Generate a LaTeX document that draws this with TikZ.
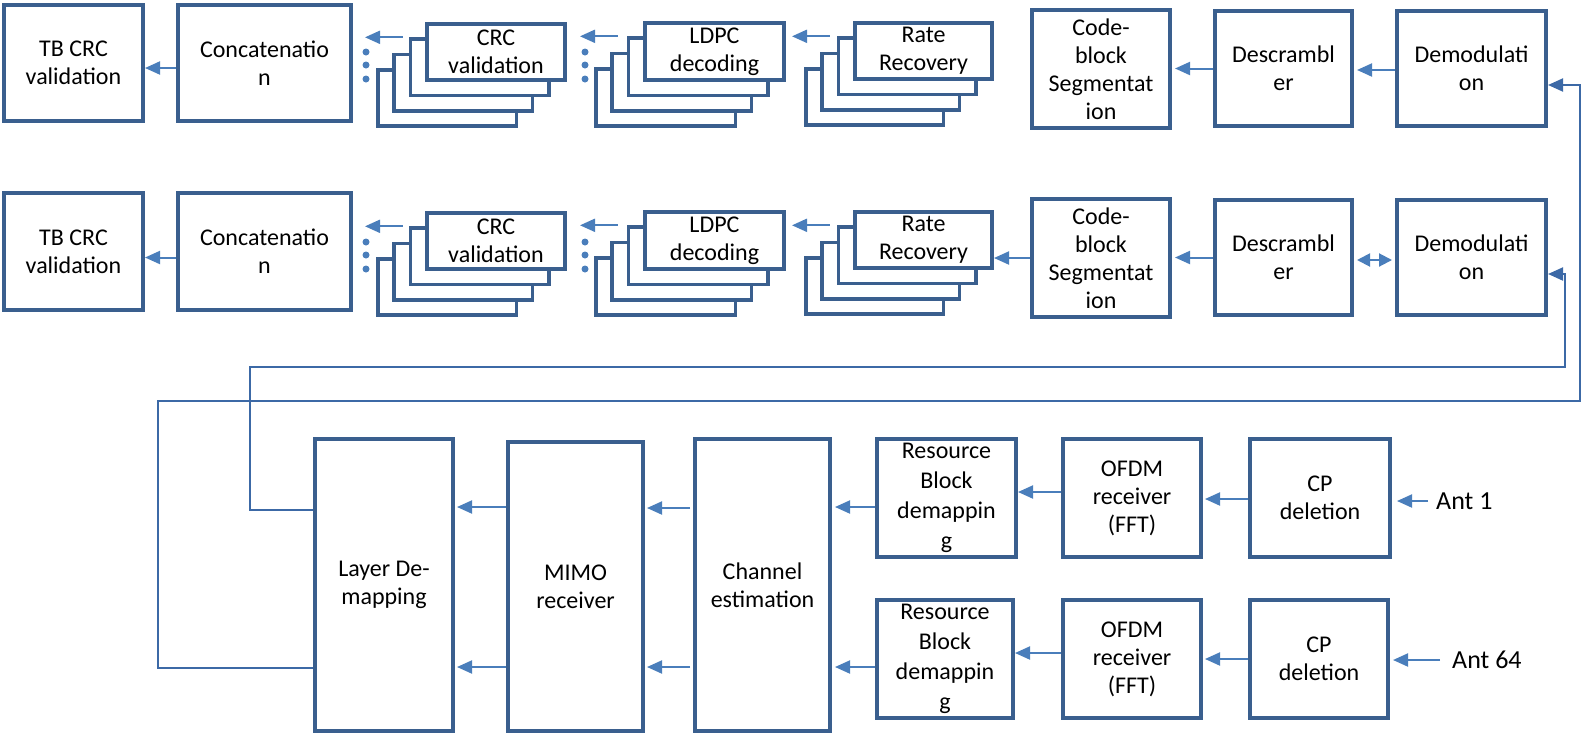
\documentclass[tikz,border=0pt]{standalone}
\usepackage{fontspec}
\setmainfont{Carlito}
\usetikzlibrary{arrows.meta}

\definecolor{boxc}{HTML}{3A5F8E}
\definecolor{arrc}{HTML}{4A7EBB}
\definecolor{linec}{HTML}{3C69A6}

\tikzset{
  blk/.style={draw=boxc, line width=4pt, fill=white, inner sep=0pt, align=center,
              font=\fontsize{24}{28}\selectfont},
  sheet/.style={draw=boxc, line width=3.6pt, fill=white, inner sep=0pt},
  tip/.style={-{Triangle[length=15pt,width=13pt]}},
  arr/.style={draw=arrc, line width=2pt, tip},
  darr/.style={draw=arrc, line width=2pt, {Triangle[length=13pt,width=13pt]}-{Triangle[length=13pt,width=13pt]}},
  route/.style={draw=linec, line width=2pt},
  dot/.style={circle, fill=arrc, inner sep=0pt, minimum size=7pt},
  antlbl/.style={inner sep=0pt, anchor=west, font=\fontsize{26}{30}\selectfont},
}

% box given by its outer corners (x1,y1) and (x2,y2), in pixels from the top left
\newcommand\blk[7][]{%
  \node[blk, #1, minimum width={#5-#3-4}, minimum height={#6-#4-4}]
    (#2) at ({(#3+#5)/2},{(#4+#6)/2}) {#7};}

% stack of four sheets, the front one carrying the label
\newcommand\stk[6]{%
  \foreach \k in {3,2,1}{%
    \node[sheet, minimum width={#4-#2-3.6}, minimum height={#5-#3-3.6}]
      (#1-\k) at ({(#2+#4)/2-16.3*\k},{(#3+#5)/2+15.3*\k}) {};}
  \blk{#1}{#2}{#3}{#4}{#5}{#6}}

\begin{document}
\begin{tikzpicture}[x=1pt, y=-1pt]
\useasboundingbox (0,0) rectangle (1586,737);

% ---------- first code-word chain ----------
\blk{TBa}{2}{3}{145}{123}{TB CRC\\validation}
\blk{CONa}{176}{3}{353}{123}{Concatenatio\\n}
\stk{CRCa}{425}{22}{567}{82}{CRC\\validation}
\stk{LDPCa}{643}{21}{786}{82}{LDPC\\decoding}
\stk{RATEa}{853}{21}{994}{81}{Rate\\Recovery}
\blk{CBSa}{1030}{8}{1172}{130}{Code-\\block\\Segmentat\\ion}
\blk{DSCa}{1213}{9}{1354}{128}{Descrambl\\er}
\blk{DEMa}{1395}{9}{1548}{128}{Demodulati\\on}

% ---------- second code-word chain ----------
\blk{TBb}{2}{191}{145}{312}{TB CRC\\validation}
\blk{CONb}{176}{191}{353}{312}{Concatenatio\\n}
\stk{CRCb}{425}{211}{567}{271}{CRC\\validation}
\stk{LDPCb}{643}{210}{786}{271}{LDPC\\decoding}
\stk{RATEb}{853}{210}{994}{270}{Rate\\Recovery}
\blk{CBSb}{1030}{197}{1172}{319}{Code-\\block\\Segmentat\\ion}
\blk{DSCb}{1213}{198}{1354}{317}{Descrambl\\er}
\blk{DEMb}{1395}{198}{1548}{317}{Demodulati\\on}

% ---------- antenna front end ----------
\blk{LAY}{313}{437}{455}{733}{Layer De-\\mapping}
\blk{MIMO}{506}{440}{645}{733}{MIMO\\receiver}
\blk{CHE}{693}{437}{832}{733}{Channel\\estimation}
\blk[font=\fontsize{24}{30}\selectfont]{RBa}{875}{437}{1018}{559}{Resource\\Block\\demappin\\g}
\blk{OFDMa}{1061}{437}{1203}{559}{OFDM\\receiver\\(FFT)}
\blk{CPa}{1248}{437}{1392}{559}{CP\\deletion}
\blk[font=\fontsize{24}{30}\selectfont]{RBb}{875}{598}{1015}{720}{Resource\\Block\\demappin\\g}
\blk{OFDMb}{1061}{598}{1203}{720}{OFDM\\receiver\\(FFT)}
\blk{CPb}{1248}{598}{1390}{720}{CP\\deletion}

\node[antlbl] (ANTa) at (1436,501) {Ant 1};
\node[antlbl] (ANTb) at (1452,660) {Ant 64};

% ---------- dots between stacks ----------
\foreach \r/\dy in {a/0,b/190}{
  \foreach \i/\yy in {1/52,2/65,3/79}{
    \node[dot] (dotC\r\i) at (366,\yy+\dy) {};
    \node[dot] (dotL\r\i) at (585,\yy+\dy) {};
  }
}

% ---------- arrows, first chain ----------
\draw[arr] ([yshift=-5pt]CONa.west) -- ([yshift=-5pt]TBa.east);
\draw[arr] ([xshift=-6pt]CRCa-1.north west) -- ([xshift=12pt]CONa.east |- CRCa-1.north west);
\draw[arr] ([xshift=-9pt]LDPCa-1.north west) -- ([xshift=13pt]CRCa.east |- LDPCa-1.north west);
\draw[arr] ([xshift=-7pt]RATEa-1.north west) -- ([xshift=6pt]LDPCa.east |- RATEa-1.north west);
\draw[arr] (DSCa.west) -- ([xshift=3pt]CBSa.east |- DSCa.west);
\draw[arr] ([yshift=-1.5pt]DEMa.west) -- ([xshift=3pt,yshift=-1.5pt]DSCa.east);

% ---------- arrows, second chain ----------
\draw[arr] ([yshift=-6pt]CONb.west) -- ([yshift=-6pt]TBb.east);
\draw[arr] ([xshift=-6pt]CRCb-1.north west) -- ([xshift=12pt]CONb.east |- CRCb-1.north west);
\draw[arr] ([xshift=-9pt]LDPCb-1.north west) -- ([xshift=13pt]CRCb.east |- LDPCb-1.north west);
\draw[arr] ([xshift=-7pt]RATEb-1.north west) -- ([xshift=6pt]LDPCb.east |- RATEb-1.north west);
\draw[arr] (CBSb.west) -- (RATEb.east |- CBSb.west);
\draw[arr] (DSCb.west) -- ([xshift=3pt]CBSb.east |- DSCb.west);
\draw[darr] ([xshift=3pt,yshift=-2.5pt]DSCb.east) -- ([xshift=-3pt,yshift=-2.5pt]DEMb.west);

% ---------- arrows, front end ----------
\coordinate (rbaOut) at ([yshift=-9pt]RBa.west);
\coordinate (cheOutA) at ([xshift=-3pt,yshift=77pt]CHE.west);
\coordinate (mimoOutA) at ([yshift=79.5pt]MIMO.west);
\coordinate (rbbOut) at ([yshift=-8pt]RBb.west);
\coordinate (cheOutB) at ([xshift=-3pt,yshift=-82pt]CHE.west);
\coordinate (mimoOutB) at ([yshift=-80.5pt]MIMO.west);

\draw[arr] ([xshift=-8pt]ANTa.west) -- ([xshift=5pt]CPa.east |- ANTa.west);
\draw[arr] ([yshift=-1pt]CPa.west) -- ([xshift=2pt,yshift=-1pt]OFDMa.east);
\draw[arr] ([yshift=6pt]OFDMa.west) -- ([yshift=6pt]RBa.east);
\draw[arr] (rbaOut) -- ([xshift=3pt]CHE.east |- rbaOut);
\draw[arr] (cheOutA) -- ([xshift=2pt]MIMO.east |- cheOutA);
\draw[arr] (mimoOutA) -- ([xshift=2pt]LAY.east |- mimoOutA);

\draw[arr] ([xshift=-12pt]ANTb.west) -- ([xshift=3pt]CPb.east |- ANTb.west);
\draw[arr] (CPb.west) -- ([xshift=2pt]OFDMb.east |- CPb.west);
\draw[arr] ([yshift=6pt]OFDMb.west) -- ([yshift=6pt]RBb.east);
\draw[arr] (rbbOut) -- ([xshift=3pt]CHE.east |- rbbOut);
\draw[arr] (cheOutB) -- ([xshift=2pt]MIMO.east |- cheOutB);
\draw[arr] (mimoOutB) -- ([xshift=2pt]LAY.east |- mimoOutB);

% ---------- feedback routes from layer de-mapping to the demodulators ----------
\coordinate (Ra1) at (158,401);
\coordinate (Ra2) at (1580,85);
\coordinate (Rb1) at (250,367);
\coordinate (Rb2) at (1565,274);
\draw[route, tip] ([yshift=-83pt]LAY.west) -| (Ra1) -- (Ra1 -| Ra2) -- (Ra2)
  -- ([yshift=-16.5pt]DEMa.east);
\draw[route, tip] ([yshift=75pt]LAY.west) -| (Rb1) -- (Rb1 -| Rb2) -- (Rb2)
  -- ([yshift=-16.5pt]DEMb.east);

\end{tikzpicture}
\end{document}
